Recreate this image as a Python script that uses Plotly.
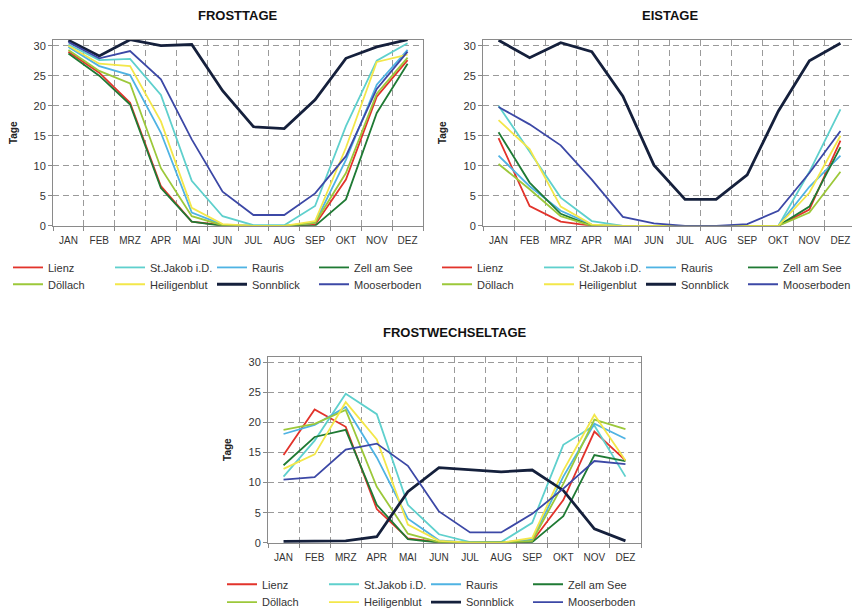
import plotly.graph_objects as go

months = ["JAN", "FEB", "MRZ", "APR", "MAI", "JUN", "JUL", "AUG", "SEP", "OKT", "NOV", "DEZ"]
stations = ["Lienz", "St.Jakob i.D.", "Rauris", "Zell am See",
            "Döllach", "Heiligenblut", "Sonnblick", "Mooserboden"]
colors = ["#e2332b", "#5fd0cd", "#4fb3e3", "#1f7a34",
          "#9cc83a", "#f3e74a", "#15203c", "#3c48a6"]
widths = [1.8, 1.8, 1.8, 1.8, 1.8, 1.8, 2.8, 1.8]

# FROSTTAGE
ft_lienz = [29.0, 25.5, 20.5, 6.6, 0.7, 0.1, 0, 0, 0.2, 7.7, 21.5, 27.6]
ft_stjakob = [30.2, 27.6, 27.8, 21.8, 7.5, 1.6, 0.1, 0.1, 3.3, 16.6, 27.5, 30.4]
ft_rauris = [29.8, 26.6, 25.1, 15.5, 2.2, 0.2, 0, 0, 0.5, 11.0, 23.5, 29.3]
ft_zell = [28.7, 25.0, 20.2, 6.3, 0.7, 0, 0, 0, 0, 4.4, 18.8, 27.0]
ft_doellach = [29.3, 25.8, 23.7, 9.6, 1.6, 0.1, 0, 0, 0.5, 8.8, 22.0, 28.0]
ft_heiligenblut = [30.0, 27.0, 26.6, 17.4, 3.0, 0.3, 0, 0, 0.8, 13.0, 27.3, 28.5]
ft_sonnblick = [30.9, 28.3, 31.0, 30.0, 30.2, 22.5, 16.5, 16.2, 21.0, 27.9, 29.8, 31.0]
ft_mooserboden = [30.6, 27.9, 29.1, 24.4, 14.4, 5.7, 1.8, 1.8, 5.4, 11.6, 22.8, 29.0]

# EISTAGE
et_lienz = [14.6, 3.3, 0.7, 0, 0, 0, 0, 0, 0, 0, 2.7, 14.2]
et_stjakob = [20.0, 12.4, 4.7, 0.8, 0, 0, 0, 0, 0, 0, 9.0, 19.4]
et_rauris = [11.7, 6.6, 2.5, 0.2, 0, 0, 0, 0, 0, 0, 6.5, 11.7]
et_zell = [15.6, 7.2, 2.0, 0, 0, 0, 0, 0, 0, 0, 3.2, 13.1]
et_doellach = [10.3, 6.1, 1.6, 0, 0, 0, 0, 0, 0, 0, 2.2, 9.0]
et_heiligenblut = [17.6, 12.8, 3.2, 0.2, 0, 0, 0, 0, 0, 0, 5.5, 15.0]
et_sonnblick = [30.9, 28.0, 30.5, 29.0, 21.6, 10.1, 4.4, 4.4, 8.5, 19.1, 27.5, 30.4]
et_mooserboden = [19.8, 16.9, 13.4, 7.7, 1.5, 0.4, 0, 0, 0.3, 2.5, 8.8, 15.8]

# FROSTWECHSELTAGE
fw_lienz = [14.6, 22.2, 19.3, 5.6, 0.7, 0.1, 0, 0, 0.2, 7.1, 18.5, 13.7]
fw_stjakob = [11.0, 17.0, 24.8, 21.4, 6.3, 1.4, 0.1, 0.1, 3.3, 16.3, 19.5, 11.0]
fw_rauris = [18.1, 19.6, 22.6, 14.2, 4.0, 0.4, 0, 0, 0.5, 11.0, 19.8, 17.3]
fw_zell = [12.9, 17.6, 18.8, 6.3, 0.6, 0, 0, 0, 0.1, 4.4, 14.6, 13.6]
fw_doellach = [18.8, 19.8, 22.1, 9.3, 1.5, 0.1, 0, 0, 0.3, 9.8, 20.5, 18.9]
fw_heiligenblut = [12.3, 14.7, 23.4, 17.2, 3.0, 0.3, 0, 0, 0.8, 12.0, 21.3, 13.7]
fw_sonnblick = [0.2, 0.2, 0.3, 1.0, 8.5, 12.5, 12.1, 11.8, 12.1, 8.7, 2.3, 0.3]
fw_mooserboden = [10.5, 10.9, 15.5, 16.5, 12.8, 5.2, 1.7, 1.7, 4.8, 9.0, 13.6, 13.1]

panels = [
    ("FROSTTAGE", [ft_lienz, ft_stjakob, ft_rauris, ft_zell, ft_doellach,
                   ft_heiligenblut, ft_sonnblick, ft_mooserboden]),
    ("EISTAGE", [et_lienz, et_stjakob, et_rauris, et_zell, et_doellach,
                 et_heiligenblut, et_sonnblick, et_mooserboden]),
    ("FROSTWECHSELTAGE", [fw_lienz, fw_stjakob, fw_rauris, fw_zell, fw_doellach,
                          fw_heiligenblut, fw_sonnblick, fw_mooserboden]),
]

W, H = 860, 609
# plot areas in pixels: (left, right, top, bottom)
areas = [(45, 415, 32, 220), (475, 848, 32, 220), (260, 633, 352, 540)]
legend_left = [0, 429, 214]
legend_rows = [(262, 279), (262, 279), (582, 600)]

FONT = "Arial, Liberation Sans, sans-serif"
fig = go.Figure()
layout = dict(
    width=W, height=H,
    margin=dict(l=0, r=0, t=0, b=0),
    paper_bgcolor="white", plot_bgcolor="white",
    font=dict(family=FONT, size=11, color="#333"),
    hovermode=False,
    annotations=[],
)

for p, (title, series) in enumerate(panels):
    xa = "x" if p == 0 else f"x{p+1}"
    ya = "y" if p == 0 else f"y{p+1}"
    l, r, t, b = areas[p]
    for i, name in enumerate(stations):
        lg_idx = p * 2 + (0 if i < 4 else 1)
        lg = "legend" if lg_idx == 0 else f"legend{lg_idx+1}"
        fig.add_trace(go.Scatter(
            x=months, y=series[i], mode="lines", name=name,
            line=dict(color=colors[i], width=widths[i]),
            xaxis=xa, yaxis=ya, legend=lg,
            legendwidth=(80 if i % 4 == 3 else None),
        ))
    axkey = "xaxis" if p == 0 else f"xaxis{p+1}"
    aykey = "yaxis" if p == 0 else f"yaxis{p+1}"
    layout[axkey] = dict(
        domain=[l / W, r / W], anchor=ya,
        type="category", categoryorder="array", categoryarray=months,
        range=[-0.5, 11.5], tickson="boundaries", tickangle=0,
        showline=True, linecolor="#8a8a8a", linewidth=1, mirror=True,
        ticks="outside", ticklen=4, tickcolor="#8a8a8a",
        ticklabelstandoff=5,
        showgrid=True, gridcolor="#9a9a9a", gridwidth=1, griddash="6px,4px",
        tickfont=dict(size=10, color="#333"), fixedrange=True,
    )
    layout[aykey] = dict(
        domain=[1 - b / H, 1 - t / H], anchor=xa,
        range=[0, 31], tickvals=[0, 5, 10, 15, 20, 25, 30],
        showline=True, linecolor="#8a8a8a", linewidth=1, mirror=True,
        ticks="outside", ticklen=4, tickcolor="#8a8a8a",
        showgrid=True, gridcolor="#9a9a9a", gridwidth=1, griddash="6px,4px",
        zeroline=False,
        tickfont=dict(size=11, color="#333"),
        title=dict(text="<b>Tage</b>", font=dict(size=10, color="#222"), standoff=15),
        fixedrange=True,
    )
    layout["annotations"].append(dict(
        text=f"<b>{title}</b>", x=(l + r) / 2 / W, y=1 - (t - 24) / H,
        xref="paper", yref="paper", showarrow=False,
        font=dict(size=13, color="#111", family=FONT),
        xanchor="center", yanchor="middle",
    ))
    for k in range(2):
        lg_idx = p * 2 + k
        lg = "legend" if lg_idx == 0 else f"legend{lg_idx+1}"
        layout[lg] = dict(
            orientation="h", x=legend_left[p] / W, xanchor="left",
            y=1 - legend_rows[p][k] / H, yanchor="middle",
            entrywidth=57, entrywidthmode="pixels",
            font=dict(size=11, color="#333", family=FONT),
            bgcolor="rgba(0,0,0,0)", borderwidth=0,
            itemclick=False, itemdoubleclick=False,
        )

fig.update_layout(**layout)
fig.write_html("out.html")
